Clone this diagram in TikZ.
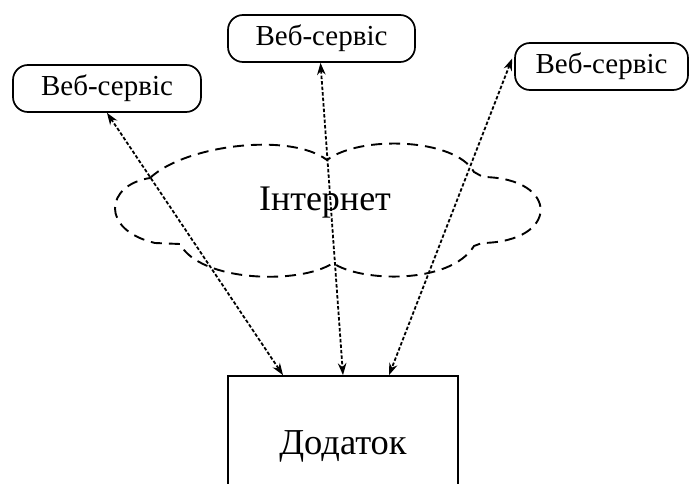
\documentclass[tikz,border=0pt]{standalone}
\usepackage{fontspec}
\setmainfont{Liberation Serif}
\usetikzlibrary{arrows.meta}
\begin{document}
\begin{tikzpicture}[x=1pt,y=-1pt,
  service/.style={draw, line width=1.7pt, rounded corners=15pt, inner sep=0pt,
    minimum height=47pt, font=\fontsize{29}{32}\selectfont},
  appbox/.style={draw, line width=1.7pt, inner sep=0pt, minimum width=230pt,
    minimum height=140pt, font=\fontsize{36.5}{40}\selectfont},
  cloudline/.style={line width=1.9pt, dash pattern=on 11pt off 7pt},
  link/.style={line width=1.8pt, dash pattern=on 3.5pt off 2pt,
    {Stealth[length=12pt,width=8.5pt]}-{Stealth[length=12pt,width=8.5pt]}}]
\path[use as bounding box, clip] (0,0) rectangle (690,484);
\fill[white] (0,0) rectangle (690,484);

% web services
\node[service, minimum width=188pt] (s1) at (107,88.5) {Веб-сервіс};
\node[service, minimum width=187pt] (s2) at (321.5,38.5) {Веб-сервіс};
\node[service, minimum width=173pt] (s3) at (601.5,66.5) {Веб-сервіс};

% application
\node[appbox] (app) at (343,446) {Додаток};

% internet cloud
\draw[cloudline]
  (150,178) .. controls (185,145) and (290,132) .. (327,160)
  .. controls (360,135) and (455,138) .. (474,172)
  -- (483,177)
  .. controls (560,178) and (560,242) .. (482,243)
  -- (474,246)
  .. controls (450,285) and (360,282) .. (333,263)
  .. controls (300,285) and (200,282) .. (180,244)
  -- (155,243)
  .. controls (100,230) and (105,185) .. cycle;
\node[font=\fontsize{36}{40}\selectfont] (net) at (325,203) {Інтернет};

% connections
\draw[link] (s1.south) -- ([xshift=-60pt]app.north);
\draw[link] ([xshift=-1pt]s2.south) -- (app.north);
\draw[link] ([xshift=-2pt,yshift=8pt]s3.west) -- ([xshift=46pt]app.north);
\end{tikzpicture}
\end{document}
